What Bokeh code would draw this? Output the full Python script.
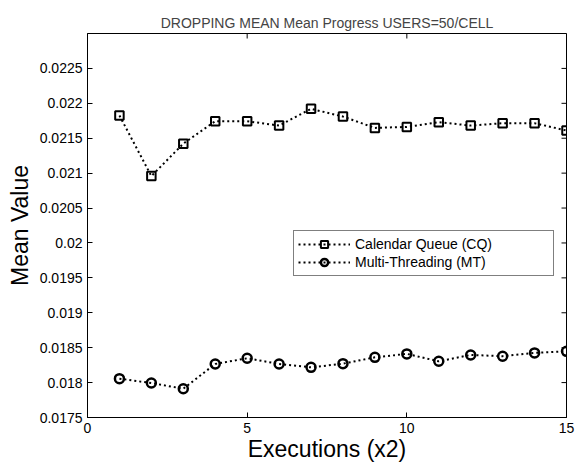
from bokeh.plotting import figure
from bokeh.models import FixedTicker, Range1d, Legend, LegendItem
from bokeh.embed import file_html
from bokeh.resources import INLINE
import math

executions = list(range(1, 16))
cq_values = [0.021825, 0.020958, 0.021422, 0.021744, 0.021744, 0.021681, 0.021921,
             0.021810, 0.021648, 0.021662, 0.021730, 0.021681, 0.021715, 0.021715, 0.021610]
mt_values = [0.018056, 0.017994, 0.017912, 0.018267, 0.018348, 0.018267, 0.018218,
             0.018271, 0.018362, 0.018411, 0.018305, 0.018396, 0.018378, 0.018425, 0.018448]

x_ticks = [0, 5, 10, 15]
y_ticks = [0.0175, 0.018, 0.0185, 0.019, 0.0195, 0.02, 0.0205, 0.021, 0.0215, 0.022, 0.0225]
y_tick_labels = ["0.0175", "0.018", "0.0185", "0.019", "0.0195", "0.02", "0.0205",
                 "0.021", "0.0215", "0.022", "0.0225"]
x_lim = (0, 15)
y_lim = (0.0175, 0.023)

FONT = "Liberation Sans"

p = figure(width=579, height=465, output_backend="svg", toolbar_location=None,
           x_range=Range1d(*x_lim), y_range=Range1d(*y_lim),
           min_border_left=87, min_border_right=13, min_border_top=33, min_border_bottom=48,
           title="DROPPING MEAN Mean Progress USERS=50/CELL")

p.title.text_font = FONT
p.title.text_font_size = "14px"
p.title.text_font_style = "normal"
p.title.align = "center"
p.title.standoff = 6
p.title.offset = 0

p.xgrid.visible = False
p.ygrid.visible = False
p.outline_line_color = "black"
p.outline_line_width = 1
p.background_fill_color = "white"
p.border_fill_color = "white"

def style_axis(ax):
    ax.axis_line_color = "black"
    ax.major_tick_line_color = "black"
    ax.major_tick_in = 5
    ax.major_tick_out = 0
    ax.minor_tick_line_color = None
    ax.major_label_text_font = FONT
    ax.major_label_text_font_size = "14px"
    ax.major_label_text_color = "black"
    ax.axis_label_text_font = FONT
    ax.axis_label_text_font_style = "normal"
    ax.axis_label_text_color = "black"

xa = p.xaxis[0]
xa.ticker = FixedTicker(ticks=x_ticks)
style_axis(xa)
xa.axis_label = "Executions (x2)"
xa.axis_label_text_font_size = "23px"
xa.major_label_standoff = 5
xa.axis_label_standoff = 0

ya = p.yaxis[0]
ya.ticker = FixedTicker(ticks=y_ticks)
ya.major_label_overrides = {t: s for t, s in zip(y_ticks, y_tick_labels)}
style_axis(ya)
ya.axis_label = "Mean Value"
ya.axis_label_text_font_size = "23px"
ya.major_label_standoff = 5
ya.axis_label_standoff = 4

# inward ticks on the right and top edges of the box (clipped to the frame)
p.scatter([x_lim[1]] * len(y_ticks), y_ticks, marker="dash", size=10,
          line_color="black", line_width=1)
p.scatter(x_ticks, [y_lim[1]] * len(x_ticks), marker="dash", angle=math.pi / 2, size=10,
          line_color="black", line_width=1)

cq_line = p.line(executions, cq_values, line_color="black", line_width=2, line_dash="2 3")
cq_pts = p.scatter(executions, cq_values, marker="square", size=8.5, fill_color=None,
                   line_color="black", line_width=2)
mt_line = p.line(executions, mt_values, line_color="black", line_width=2, line_dash="2 3")
mt_pts = p.scatter(executions, mt_values, marker="circle", size=9, fill_color=None,
                   line_color="black", line_width=2.5)

legend = Legend(items=[
    LegendItem(label="Calendar Queue (CQ)", renderers=[cq_line, cq_pts]),
    LegendItem(label="Multi-Threading (MT)", renderers=[mt_line, mt_pts]),
], location=(206, 141))
legend.label_text_font = FONT
legend.label_text_font_size = "14px"
legend.label_text_color = "black"
legend.padding = 4
legend.spacing = 0
legend.margin = 0
legend.glyph_width = 52
legend.glyph_height = 18
legend.label_height = 18
legend.label_standoff = 5
legend.label_width = 194
legend.border_line_color = "black"
legend.border_line_width = 1
legend.background_fill_color = "white"
legend.background_fill_alpha = 1.0
p.add_layout(legend, "center")

open("out.html", "w").write(file_html(p, INLINE))
